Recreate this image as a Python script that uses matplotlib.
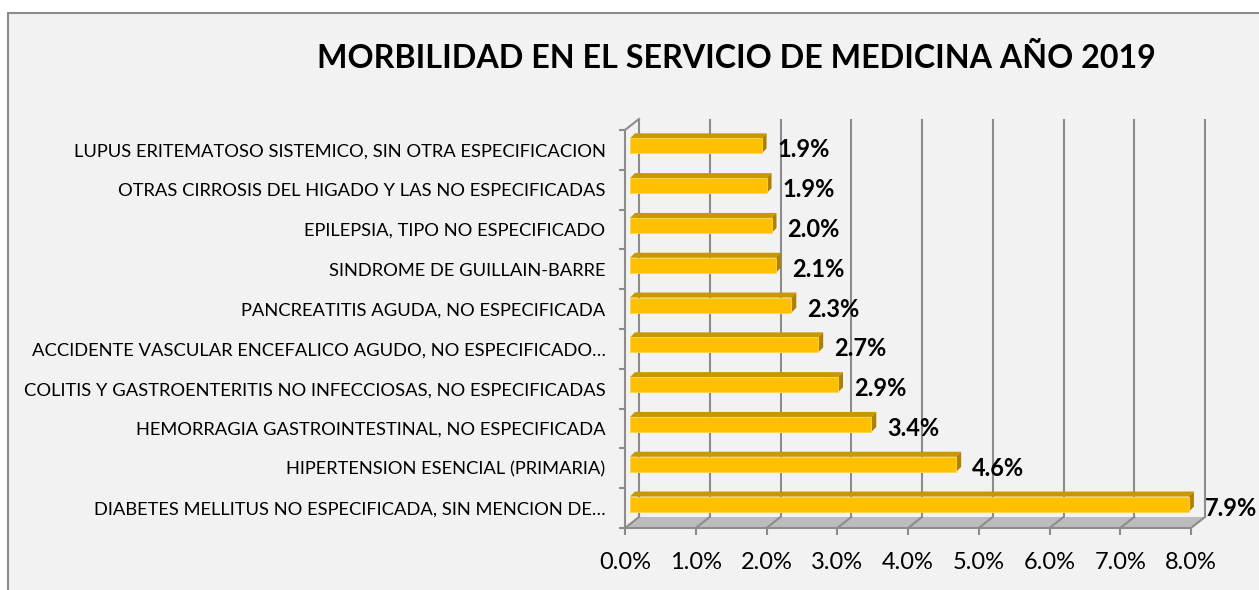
import matplotlib
matplotlib.use("Agg")
import numpy as np
import matplotlib.pyplot as plt
from matplotlib.patches import Polygon, Rectangle
from matplotlib.transforms import ScaledTranslation, IdentityTransform, blended_transform_factory

# datos (porcentaje)
categorias = [
    "LUPUS ERITEMATOSO SISTEMICO, SIN OTRA ESPECIFICACION",
    "OTRAS CIRROSIS DEL HIGADO Y LAS NO ESPECIFICADAS",
    "EPILEPSIA, TIPO NO ESPECIFICADO",
    "SINDROME DE GUILLAIN-BARRE",
    "PANCREATITIS AGUDA, NO ESPECIFICADA",
    "ACCIDENTE VASCULAR ENCEFALICO AGUDO, NO ESPECIFICADO…",
    "COLITIS Y GASTROENTERITIS NO INFECCIOSAS, NO ESPECIFICADAS",
    "HEMORRAGIA GASTROINTESTINAL, NO ESPECIFICADA",
    "HIPERTENSION ESENCIAL (PRIMARIA)",
    "DIABETES MELLITUS NO ESPECIFICADA, SIN MENCION DE…",
]
valores = [1.86, 1.93, 2.00, 2.06, 2.28, 2.66, 2.94, 3.41, 4.61, 7.90]
ticks_x = [0, 1, 2, 3, 4, 5, 6, 7, 8]
titulo = "MORBILIDAD EN EL SERVICIO DE MEDICINA AÑO 2019"

plt.rcParams['font.family'] = ['Lato', 'DejaVu Sans']

ANCHO, ALTO, DPI = 1259, 590, 100
GRIS = '#8c8c8c'
PROF = (14, 11)      # profundidad del piso / pared
BARRA_OFF = (5, 4)   # posicion de la barra dentro de la profundidad
D = 5                # grosor 3D de la barra

fig = plt.figure(figsize=(ANCHO / DPI, ALTO / DPI), dpi=DPI)
fig.patch.set_facecolor('white')
fig.add_artist(Rectangle((8 / ANCHO, -0.05), 1.0, 1.05 - 13 / ALTO, transform=fig.transFigure,
                         facecolor='#f2f2f2', edgecolor=GRIS, lw=1.5, zorder=0))

fig.text(736 / ANCHO, 1 - 58 / ALTO, titulo, ha='center', va='center',
         fontsize=23.2, fontweight='bold', color='black')

ax = fig.add_axes([625 / ANCHO, 62 / ALTO, 566 / ANCHO, 398 / ALTO])
ax.set_facecolor('none')
ax.set_xlim(ticks_x[0], ticks_x[-1])
ax.set_ylim(len(categorias) - 0.5, -0.5)


def desplaz(dx, dy):
    return ScaledTranslation(dx / DPI, dy / DPI, fig.dpi_scale_trans)


blend = blended_transform_factory(ax.transData, ax.transAxes)

# pared del fondo: lineas de division
ax.vlines(ticks_x, 0, 1, transform=blend + desplaz(*PROF), colors=GRIS, lw=1.5,
          clip_on=False, zorder=1)

# piso
frente = blend.transform([(ticks_x[0], 0), (ticks_x[-1], 0)])
fondo = frente + np.array(PROF)
ax.add_patch(Polygon([frente[0], frente[1], fondo[1], fondo[0]], closed=True,
                     transform=IdentityTransform(), facecolor='#bcbcbc', edgecolor='none',
                     clip_on=False, zorder=1))
for t in ticks_x:
    p = blend.transform([(t, 0)])[0]
    ax.plot([p[0], p[0] + PROF[0]], [p[1], p[1] + PROF[1]], color=GRIS, lw=1.5,
            transform=IdentityTransform(), clip_on=False, zorder=2)
# diagonal superior izquierda
p = blend.transform([(ticks_x[0], 1)])[0]
ax.plot([p[0], p[0] + PROF[0]], [p[1], p[1] + PROF[1]], color=GRIS, lw=1.5,
        transform=IdentityTransform(), clip_on=False, zorder=2)

# barras 3D
barras = ax.barh(range(len(valores)), valores, height=0.38, left=0,
                 transform=ax.transData + desplaz(*BARRA_OFF),
                 color='#FFC000', edgecolor='#FFD34F', lw=0.6, zorder=5)
for b in barras:
    v = b.get_verts()
    x0, x1 = v[:, 0].min(), v[:, 0].max()
    y0, y1 = v[:, 1].min(), v[:, 1].max()
    ax.add_patch(Polygon([(x0, y1), (x1, y1), (x1 + D, y1 + D), (x0 + D, y1 + D)],
                         transform=IdentityTransform(), facecolor='#C99700',
                         edgecolor='none', clip_on=False, zorder=4))
    ax.add_patch(Polygon([(x1, y0), (x1 + D, y0 + D), (x1 + D, y1 + D), (x1, y1)],
                         transform=IdentityTransform(), facecolor='#AD8200',
                         edgecolor='none', clip_on=False, zorder=4))

for i, v in enumerate(valores):
    ax.text(v, i, f"{v:.1f}%", transform=ax.transData + desplaz(21, 0),
            ha='left', va='center', fontsize=17, fontweight='bold', color='black',
            clip_on=False, zorder=6)

# ejes
for lado in ['top', 'right']:
    ax.spines[lado].set_visible(False)
for lado in ['left', 'bottom']:
    ax.spines[lado].set_color(GRIS)
    ax.spines[lado].set_linewidth(1.5)

ax.set_yticks(range(len(categorias)))
ax.set_yticklabels(categorias, fontsize=13.2)
ax.set_yticks(np.arange(-0.5, len(categorias), 1), minor=True)
ax.tick_params(axis='y', which='major', length=0, pad=14)
ax.tick_params(axis='y', which='minor', length=4, width=1.5, color=GRIS)

ax.set_xticks(ticks_x)
ax.set_xticklabels([f"{t:.1f}%" for t in ticks_x], fontsize=17)
ax.tick_params(axis='x', length=5, width=1.5, color=GRIS, pad=12)

fig.savefig('out.png', dpi=DPI)
